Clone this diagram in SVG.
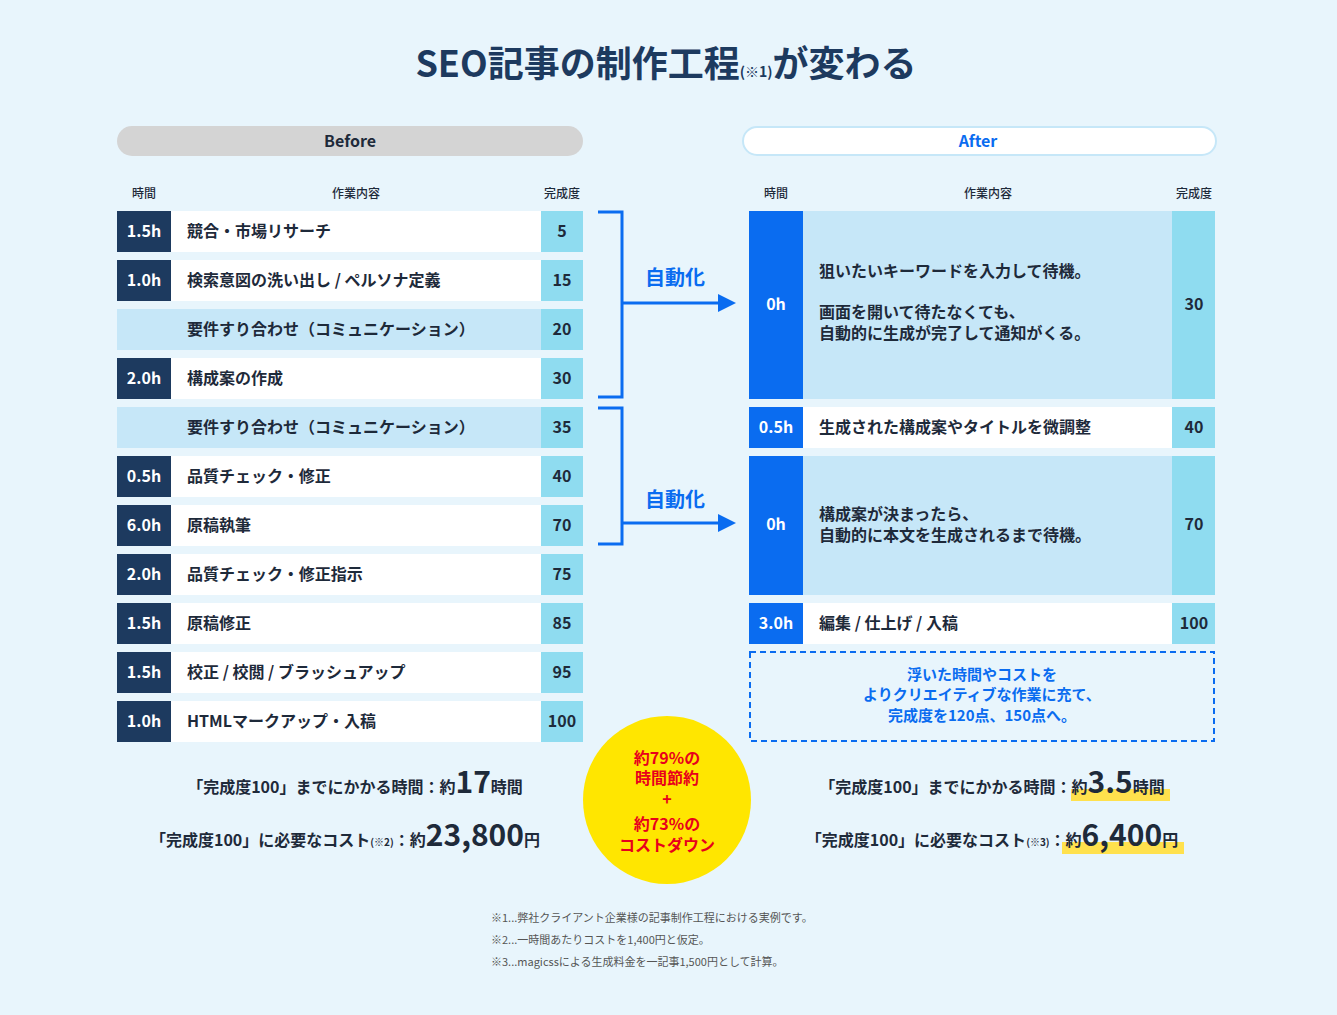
<svg xmlns="http://www.w3.org/2000/svg" width="1337" height="1015" viewBox="0 0 1337 1015">
<style>
text{font-family:"Noto Sans CJK JP","Noto Sans",sans-serif;font-weight:700;fill:#1e2a3a}
.t{fill:#fff;font-size:16px;text-anchor:middle}
.c{font-size:16px}
.s{font-size:16px;text-anchor:middle}
.h{font-size:12px;text-anchor:middle;font-weight:500}
.navy{fill:#1d3a5f}.wh{fill:#fff}.lb{fill:#c6e7f8}.cy{fill:#8fdcf0}.bl{fill:#0a6cf0}
.sum{font-size:16px;text-anchor:middle}
.fn{font-size:11px;font-weight:400;fill:#555}
.r{fill:#e8001c;font-size:16px;text-anchor:middle}
.nb{fill:#0a6cf0;font-size:15px;text-anchor:middle}
</style>
<rect width="1337" height="1015" fill="#e8f5fc"/>
<text x="666" y="77" font-size="36" text-anchor="middle" style="fill:#1d3a5f">SEO記事の制作工程<tspan font-size="14">(※1)</tspan>が変わる</text>
<g id="before-header">
<rect x="117" y="126" width="466" height="30" rx="15" fill="#d4d4d4"/>
<text x="350" y="147" font-size="16" text-anchor="middle">Before</text>
<text class="h" x="144" y="198">時間</text><text class="h" x="356" y="198">作業内容</text><text class="h" x="562" y="198">完成度</text>
</g>
<g id="after-header">
<rect x="743" y="127" width="473" height="28" rx="14" fill="#fff" stroke="#c6e7f8" stroke-width="2"/>
<text x="978" y="147" font-size="16" text-anchor="middle" style="fill:#0a6cf0">After</text>
<text class="h" x="776" y="198">時間</text><text class="h" x="988" y="198">作業内容</text><text class="h" x="1194" y="198">完成度</text>
</g>
<g id="before-rows">
<rect class="navy" x="117" y="211" width="54" height="41"/><rect class="wh" x="171" y="211" width="370" height="41"/><rect class="cy" x="541" y="211" width="42" height="41"/>
<text class="t" x="144" y="237">1.5h</text><text class="c" x="187" y="237">競合・市場リサーチ</text><text class="s" x="562" y="237">5</text>
<rect class="navy" x="117" y="260" width="54" height="41"/><rect class="wh" x="171" y="260" width="370" height="41"/><rect class="cy" x="541" y="260" width="42" height="41"/>
<text class="t" x="144" y="286">1.0h</text><text class="c" x="187" y="286">検索意図の洗い出し / ペルソナ定義</text><text class="s" x="562" y="286">15</text>
<rect class="lb" x="117" y="309" width="424" height="41"/><rect class="cy" x="541" y="309" width="42" height="41"/>
<text class="c" x="187" y="335">要件すり合わせ（コミュニケーション）</text><text class="s" x="562" y="335">20</text>
<rect class="navy" x="117" y="358" width="54" height="41"/><rect class="wh" x="171" y="358" width="370" height="41"/><rect class="cy" x="541" y="358" width="42" height="41"/>
<text class="t" x="144" y="384">2.0h</text><text class="c" x="187" y="384">構成案の作成</text><text class="s" x="562" y="384">30</text>
<rect class="lb" x="117" y="407" width="424" height="41"/><rect class="cy" x="541" y="407" width="42" height="41"/>
<text class="c" x="187" y="433">要件すり合わせ（コミュニケーション）</text><text class="s" x="562" y="433">35</text>
<rect class="navy" x="117" y="456" width="54" height="41"/><rect class="wh" x="171" y="456" width="370" height="41"/><rect class="cy" x="541" y="456" width="42" height="41"/>
<text class="t" x="144" y="482">0.5h</text><text class="c" x="187" y="482">品質チェック・修正</text><text class="s" x="562" y="482">40</text>
<rect class="navy" x="117" y="505" width="54" height="41"/><rect class="wh" x="171" y="505" width="370" height="41"/><rect class="cy" x="541" y="505" width="42" height="41"/>
<text class="t" x="144" y="531">6.0h</text><text class="c" x="187" y="531">原稿執筆</text><text class="s" x="562" y="531">70</text>
<rect class="navy" x="117" y="554" width="54" height="41"/><rect class="wh" x="171" y="554" width="370" height="41"/><rect class="cy" x="541" y="554" width="42" height="41"/>
<text class="t" x="144" y="580">2.0h</text><text class="c" x="187" y="580">品質チェック・修正指示</text><text class="s" x="562" y="580">75</text>
<rect class="navy" x="117" y="603" width="54" height="41"/><rect class="wh" x="171" y="603" width="370" height="41"/><rect class="cy" x="541" y="603" width="42" height="41"/>
<text class="t" x="144" y="629">1.5h</text><text class="c" x="187" y="629">原稿修正</text><text class="s" x="562" y="629">85</text>
<rect class="navy" x="117" y="652" width="54" height="41"/><rect class="wh" x="171" y="652" width="370" height="41"/><rect class="cy" x="541" y="652" width="42" height="41"/>
<text class="t" x="144" y="678">1.5h</text><text class="c" x="187" y="678">校正 / 校閲 / ブラッシュアップ</text><text class="s" x="562" y="678">95</text>
<rect class="navy" x="117" y="701" width="54" height="41"/><rect class="wh" x="171" y="701" width="370" height="41"/><rect class="cy" x="541" y="701" width="42" height="41"/>
<text class="t" x="144" y="727">1.0h</text><text class="c" x="187" y="727">HTMLマークアップ・入稿</text><text class="s" x="562" y="727">100</text>
</g>
<g id="after-rows">
<rect class="bl" x="749" y="211" width="54" height="188"/><rect class="lb" x="803" y="211" width="369" height="188"/><rect class="cy" x="1172" y="211" width="43" height="188"/>
<text class="t" x="776" y="310">0h</text>
<text class="c" x="819" y="277">狙いたいキーワードを入力して待機。</text>
<text class="c" x="819" y="318">画面を開いて待たなくても、</text>
<text class="c" x="819" y="339">自動的に生成が完了して通知がくる。</text>
<text class="s" x="1194" y="310">30</text>
<rect class="bl" x="749" y="407" width="54" height="41"/><rect class="wh" x="803" y="407" width="369" height="41"/><rect class="cy" x="1172" y="407" width="43" height="41"/>
<text class="t" x="776" y="433">0.5h</text><text class="c" x="819" y="433">生成された構成案やタイトルを微調整</text><text class="s" x="1194" y="433">40</text>
<rect class="bl" x="749" y="456" width="54" height="139"/><rect class="lb" x="803" y="456" width="369" height="139"/><rect class="cy" x="1172" y="456" width="43" height="139"/>
<text class="t" x="776" y="530">0h</text>
<text class="c" x="819" y="520">構成案が決まったら、</text>
<text class="c" x="819" y="541">自動的に本文を生成されるまで待機。</text>
<text class="s" x="1194" y="530">70</text>
<rect class="bl" x="749" y="603" width="54" height="41"/><rect class="wh" x="803" y="603" width="369" height="41"/><rect class="cy" x="1172" y="603" width="43" height="41"/>
<text class="t" x="776" y="629">3.0h</text><text class="c" x="819" y="629">編集 / 仕上げ / 入稿</text><text class="s" x="1194" y="629">100</text>
</g>
<g id="note-box">
<rect x="750" y="652" width="464" height="89" fill="none" stroke="#0a6cf0" stroke-width="2" stroke-dasharray="6 4"/>
<text class="nb" x="982" y="680">浮いた時間やコストを</text>
<text class="nb" x="982" y="700">よりクリエイティブな作業に充て、</text>
<text class="nb" x="982" y="721">完成度を120点、150点へ。</text>
</g>
<g id="connectors" fill="none" stroke="#0a6cf0" stroke-width="3">
<path d="M598 212H622V397H598M622 303H720"/>
<path d="M598 408H622V544H598M622 523H720"/>
<path d="M718 294L736 303L718 312Z" fill="#0a6cf0" stroke="none"/>
<path d="M718 514L736 523L718 532Z" fill="#0a6cf0" stroke="none"/>
</g>
<text x="675" y="285" font-size="20" text-anchor="middle" style="fill:#0a6cf0">自動化</text>
<text x="675" y="507" font-size="20" text-anchor="middle" style="fill:#0a6cf0">自動化</text>
<g id="badge">
<circle cx="667" cy="800" r="84" fill="#ffe600"/>
<text class="r" x="667" y="764">約79%の</text>
<text class="r" x="667" y="784">時間節約</text>
<text class="r" x="667" y="805">+</text>
<text class="r" x="667" y="830">約73%の</text>
<text class="r" x="667" y="851">コストダウン</text>
</g>
<g id="summary">
<text class="sum" x="355" y="793">「完成度100」までにかかる時間：約<tspan font-size="30">17</tspan>時間</text>
<text class="sum" x="345" y="846">「完成度100」に必要なコスト<tspan font-size="10">(※2)</tspan>：約<tspan font-size="30">23,800</tspan>円</text>
<rect x="1071" y="789" width="99" height="12" fill="#ffe14d"/>
<rect x="1062" y="842" width="122" height="12" fill="#ffe14d"/>
<text class="sum" x="992" y="793">「完成度100」までにかかる時間：約<tspan font-size="30">3.5</tspan>時間</text>
<text class="sum" x="992" y="846">「完成度100」に必要なコスト<tspan font-size="10">(※3)</tspan>：約<tspan font-size="30">6,400</tspan>円</text>
</g>
<g id="footnotes">
<text class="fn" x="491" y="922">※1...弊社クライアント企業様の記事制作工程における実例です。</text>
<text class="fn" x="491" y="944">※2...一時間あたりコストを1,400円と仮定。</text>
<text class="fn" x="491" y="966">※3...magicssによる生成料金を一記事1,500円として計算。</text>
</g>
</svg>
